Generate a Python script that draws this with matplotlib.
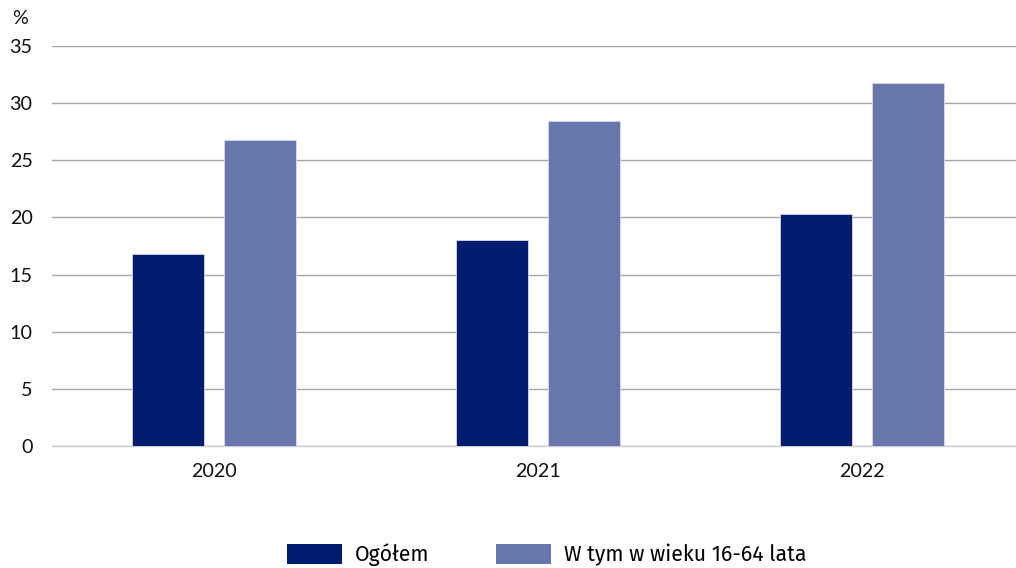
import matplotlib.pyplot as plt
import numpy as np
from matplotlib.patches import Patch

years = ["2020", "2021", "2022"]
ogolem = [16.8, 18.0, 20.3]
wiek_16_64 = [26.8, 28.4, 31.8]
labels = ["Ogółem", "W tym w wieku 16-64 lata"]
colors = ["#001c71", "#6777ad"]

plt.rcParams["font.family"] = ["Lato", "DejaVu Sans"]

fig = plt.figure(figsize=(10.16, 5.68), dpi=100)
# axes run a little past the right edge, as in the original
ax = fig.add_axes([52 / 1016, 0.2148, 972 / 1016, 0.919 - 0.2148])

x = np.arange(len(years))
w = 0.222
off = 0.143
ax.bar(x - off, ogolem, width=w, color=colors[0], edgecolor="#d8dcea", linewidth=0.6, zorder=3)
ax.bar(x + off, wiek_16_64, width=w, color=colors[1], edgecolor="#d8dcea", linewidth=0.6, zorder=3)

ax.set_xlim(-0.5, 2.5)
ax.set_ylim(0, 35)
ax.set_yticks(range(0, 36, 5))
ax.set_xticks(x)
ax.set_xticklabels(years)
ax.grid(axis="y", color="#a6a6a6", linewidth=1.0, zorder=0)
for s in ["top", "right", "left"]:
    ax.spines[s].set_visible(False)
ax.spines["bottom"].set_color("#d0d0d0")
ax.spines["bottom"].set_linewidth(1.0)
ax.tick_params(axis="both", length=0, labelsize=14.2, colors="#111111")
ax.tick_params(axis="y", pad=14)
ax.tick_params(axis="x", pad=12)

fig.text(12 / 1016, 1 - 18 / 568, "%", fontsize=14.2, va="center", ha="left", color="#111111")

handles = [Patch(facecolor=c) for c in colors]
fig.legend(handles, labels, loc="lower center", bbox_to_anchor=(0.538, -0.031), ncol=2,
           frameon=False, handlelength=2.6, handleheight=1.1,
           columnspacing=3.15, handletextpad=0.6,
           prop={"family": ["Fira Sans", "Noto Sans", "DejaVu Sans"], "size": 15.3})

fig.savefig("out.png", dpi=100)
